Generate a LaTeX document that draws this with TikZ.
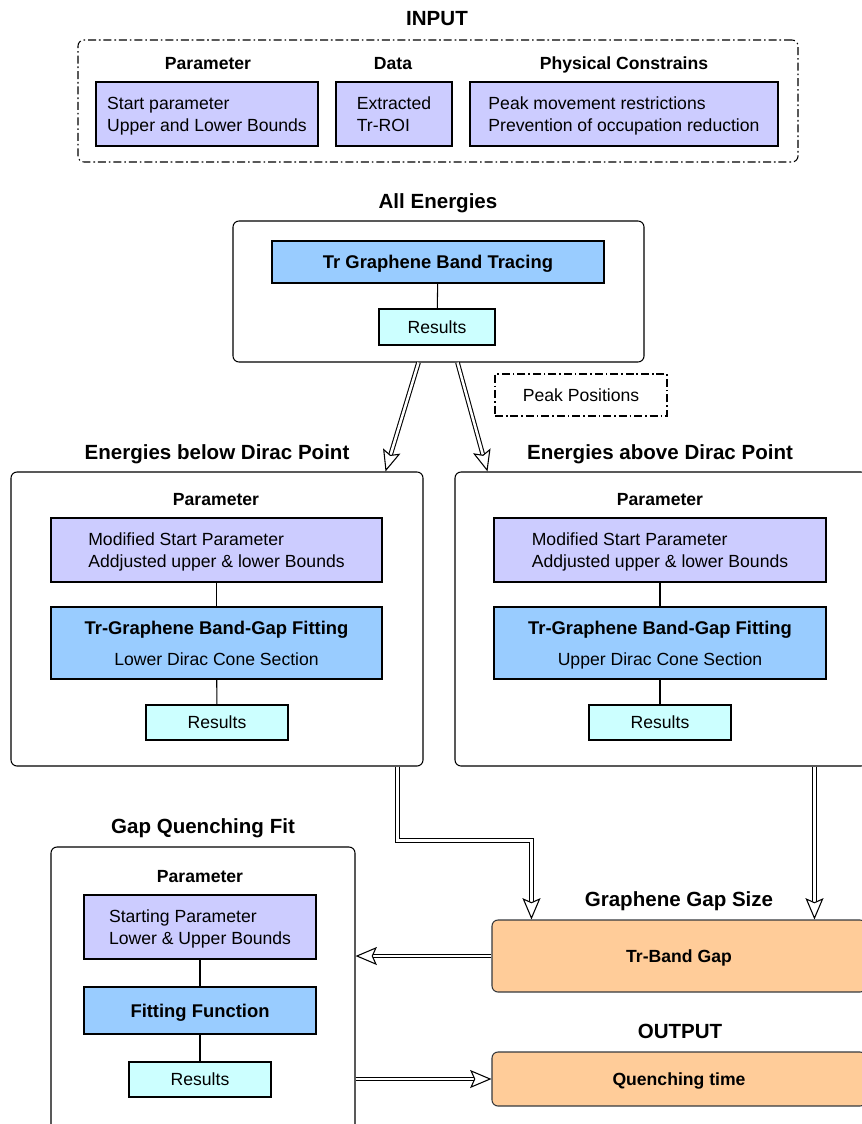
\documentclass[tikz,border=0pt]{standalone}
\usepackage{fontspec}
\setmainfont{Liberation Sans}
\usetikzlibrary{arrows.meta,calc}

\definecolor{lavender}{HTML}{CCCCFF}
\definecolor{skyblue}{HTML}{99CCFF}
\definecolor{palecyan}{HTML}{CCFFFF}
\definecolor{peach}{HTML}{FFCC99}
\definecolor{peachline}{HTML}{36393D}
\newcommand{\pxu}{0.75pt}

\tikzset{
  every node/.style={font=\fontsize{13.2}{16.5}\selectfont, inner sep=0pt, text depth=0pt},
  sz/.style 2 args={minimum width=#1*\pxu, minimum height=#2*\pxu},
  title/.style={font=\bfseries\fontsize{15.4}{18}\selectfont},
  head/.style={font=\bfseries\fontsize{13.2}{16}\selectfont},
  panel/.style={draw, line width=0.8pt, rounded corners=4.5pt},
  dashpanel/.style={draw, line width=0.8pt, rounded corners=4.5pt,
    dash pattern=on 6pt off 2.2pt on 1.2pt off 2.2pt},
  parbox/.style={draw, line width=0.8pt, fill=lavender, align=left},
  fitbox/.style={draw, line width=0.8pt, fill=skyblue, align=center},
  resbox/.style={draw, line width=0.8pt, fill=palecyan},
  outbox/.style={draw=peachline, line width=0.8pt, fill=peach, rounded corners=4.5pt,
    font=\bfseries\fontsize{13.2}{16}\selectfont},
  link/.style={line width=0.8pt},
  dblarrow/.style={double, double distance=1.9pt, line width=0.8pt,
    -{Stealth[open, fill=white, length=16pt, width=13.5pt, inset=3pt, line width=0.8pt]}}
}

\begin{document}
\begin{tikzpicture}[x=0.75pt, y=-0.75pt]
  \useasboundingbox (0,0) rectangle (862,1124);
  \clip (0,0) rectangle (862,1124);

  % input
  \node[title] (intitle) at (437,18) {INPUT};
  \node[dashpanel, sz={720}{122}] (inbox) at (438,101) {};
  \node[head] (inhdpar) at (208,63) {Parameter};
  \node[head] (inhddata) at (393,63) {Data};
  \node[head] (inhdphys) at (624,63) {Physical Constrains};
  \node[parbox, sz={222}{64}] (inpar) at (207,114) {Start parameter\\Upper and Lower Bounds};
  \node[parbox, sz={116}{64}] (indata) at (394,114) {Extracted\\Tr-ROI};
  \node[parbox, sz={308}{64}] (inphys) at (624,114) {Peak movement restrictions\\Prevention of occupation reduction};

  % all energies
  \node[title] (alltitle) at (438,201) {All Energies};
  \node[panel, sz={411}{141}] (allbox) at (438.5,291.5) {};
  \node[fitbox, sz={332}{42}, font=\bfseries\fontsize{13.8}{16}\selectfont] (trace) at (438,262) {Tr Graphene Band Tracing};
  \node[resbox, sz={116}{36}] (allres) at (437,327) {Results};
  \draw[link] (trace) -- (allres);
  \node[dashpanel, rounded corners=0pt, sz={172}{42}] (peak) at (581,395) {Peak Positions};

  % below dirac point
  \node[title] (lowtitle) at (217,452) {Energies below Dirac Point};
  \node[panel, sz={412}{294}] (lowbox) at (217,619) {};
  \node[head] (lowhd) at (216,499) {Parameter};
  \node[parbox, sz={331}{64}] (lowpar) at (216.5,550) {Modified Start Parameter\\Addjusted upper \& lower Bounds};
  \node[fitbox, sz={331}{72}, text depth=-3.5*\pxu] (lowfit) at (216.5,643)
    {{\bfseries\fontsize{13.8}{16}\selectfont Tr-Graphene Band-Gap Fitting}\\[6.5pt]Lower Dirac Cone Section};
  \node[resbox, sz={142}{35}] (lowres) at (217,722.5) {Results};
  \draw[link] (lowpar) -- (lowfit);
  \draw[link] (lowfit) -- (lowres);

  % above dirac point
  \node[title] (uptitle) at (660,452) {Energies above Dirac Point};
  \node[panel, sz={412}{294}] (upbox) at (661,619) {};
  \node[head] (uphd) at (660,499) {Parameter};
  \node[parbox, sz={332}{64}] (uppar) at (660,550) {Modified Start Parameter\\Addjusted upper \& lower Bounds};
  \node[fitbox, sz={332}{72}, text depth=-3.5*\pxu] (upfit) at (660,643)
    {{\bfseries\fontsize{13.8}{16}\selectfont Tr-Graphene Band-Gap Fitting}\\[6.5pt]Upper Dirac Cone Section};
  \node[resbox, sz={142}{35}] (upres) at (660,722.5) {Results};
  \draw[link] (uppar) -- (upfit);
  \draw[link] (upfit) -- (upres);

  % gap quenching fit
  \node[title] (gqtitle) at (203,826) {Gap Quenching Fit};
  \node[panel, sz={304}{288}] (gqbox) at (203,991) {};
  \node[head] (gqhd) at (200,876) {Parameter};
  \node[parbox, sz={232}{64}] (gqpar) at (200,927) {Starting Parameter\\Lower \& Upper Bounds};
  \node[fitbox, sz={232}{47}, font=\bfseries\fontsize{13.8}{16}\selectfont] (gqfun) at (200,1010.5) {Fitting Function};
  \node[resbox, sz={142}{35}] (gqres) at (200,1079.5) {Results};
  \draw[link] (gqpar) -- (gqfun);
  \draw[link] (gqfun) -- (gqres);

  % gap size and output
  \node[title] (gaptitle) at (679,899) {Graphene Gap Size};
  \node[outbox, sz={374}{72}] (gap) at (679,956) {Tr-Band Gap};
  \node[title] (outtitle) at (680,1031) {OUTPUT};
  \node[outbox, sz={374}{54}] (out) at (679,1079) {Quenching time};

  % double arrows
  \draw[dblarrow] ($(allbox.south)+(-20,0)$) -- ($(lowbox.north east)+(-38,0)$);
  \draw[dblarrow] ($(allbox.south)+(19,0)$) -- ($(upbox.north west)+(33,0)$);
  \draw[dblarrow] ($(lowbox.south east)+(-26,0)$) |- ++(0,74) -| ($(gap.north west)+(40,0)$);
  \draw[dblarrow] ($(upbox.south west)+(360,0)$) -- ($(gap.north west)+(323,0)$);
  \draw[dblarrow] (gap.west) -- (gap.west -| gqbox.east);
  \draw[dblarrow] (out.west -| gqbox.east) -- (out.west);
\end{tikzpicture}
\end{document}
